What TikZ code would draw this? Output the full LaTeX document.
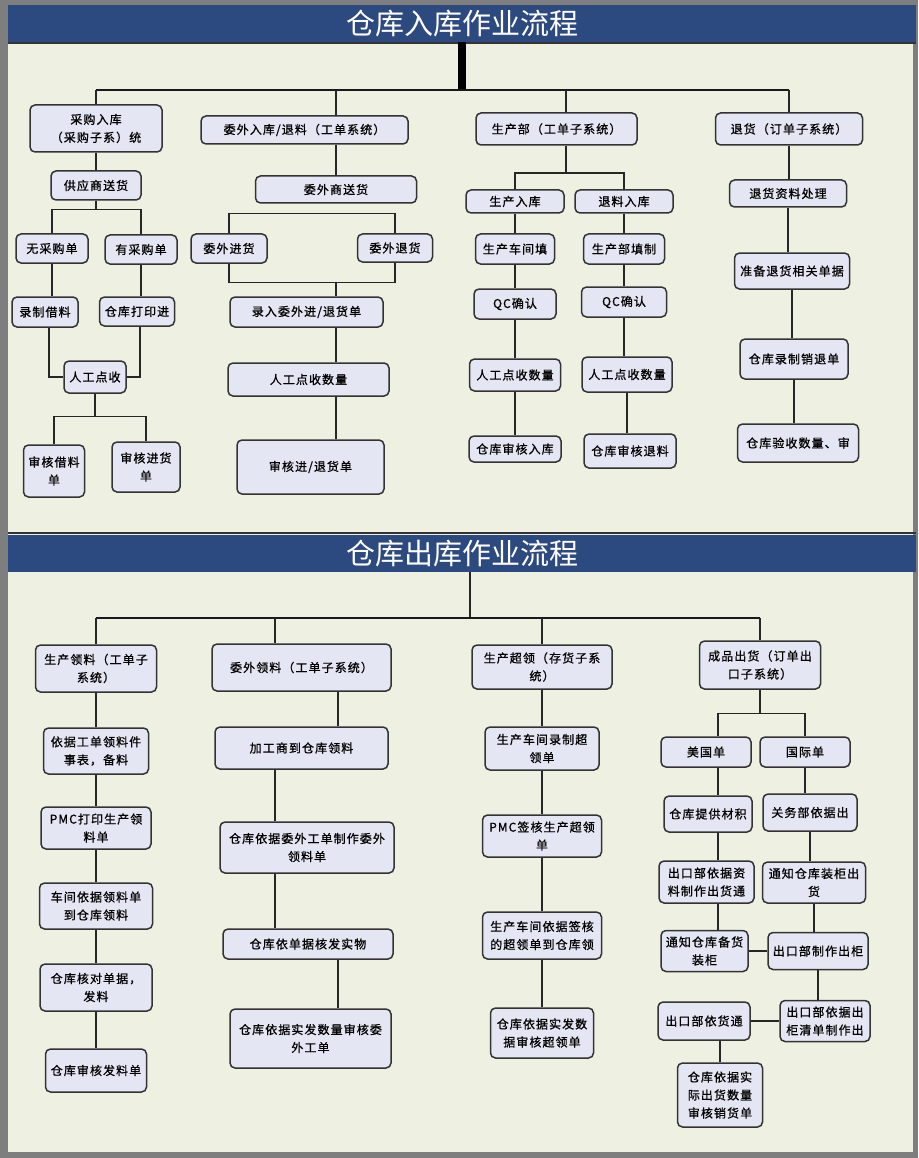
\documentclass[tikz,border=0pt]{standalone}
\usepackage{fontspec}
\setmainfont{Noto Sans CJK SC}
\newfontfamily\boxfont[LetterSpace=9, FakeBold=0.8]{Noto Sans CJK SC}

\definecolor{pagegray}{HTML}{7E7E7E}
\definecolor{paper}{HTML}{EEF1E2}
\definecolor{bannerblue}{HTML}{2C4A80}
\definecolor{boxfill}{HTML}{E4E7F3}
\definecolor{boxline}{HTML}{333333}

\begin{document}
\begin{tikzpicture}[x=1pt, y=-1pt,
  box/.style={rectangle, rounded corners=5pt, draw=boxline, line width=1.5pt, fill=boxfill, inner sep=1pt, align=center, font=\boxfont\fontsize{12}{18}\selectfont},
  sz/.style 2 args={minimum width=#1, minimum height=#2},
  banner/.style={rectangle, fill=bannerblue, text=white, inner sep=0pt, minimum width=908, minimum height=37, font=\fontsize{29}{30}\selectfont},
  wire/.style={draw=black!85, line width=1.3pt},
  bar/.style={draw=black!90, line width=2.5pt},
]
% page
\fill[pagegray] (0,0) rectangle (918,1158);
\fill[paper] (8,5) rectangle (913,1152);
\draw[line width=1.5pt, black!80] (8,43) -- (916,43);
\draw[line width=2pt, black!80] (8,533) -- (916,533);

\node[banner] (banA) at (462,23.5) {仓库入库作业流程};
\node[banner] (banB) at (462,553.5) {仓库出库作业流程};

% ---- inbound ----
\node[box, sz={132}{47}] (cgrk) at (96,128.5) {采购入库\\（采购子系）统};
\node[box, sz={207}{28}] (wwrk) at (304.5,130) {委外入库/退料（工单系统）};
\node[box, sz={161}{32}] (scb) at (556.5,129) {生产部（工单子系统）};
\node[box, sz={147}{32}] (thd) at (789,129) {退货（订单子系统）};
\node[box, sz={90}{29}] (gys) at (96,185.5) {供应商送货};
\node[box, sz={161}{27}] (wws) at (336,189.5) {委外商送货};
\node[box, sz={72}{29}] (wcgd) at (52,248.5) {无采购单};
\node[box, sz={72}{29}] (ycgd) at (141,249.5) {有采购单};
\node[box, sz={76}{29}] (wwjh) at (229,248.5) {委外进货};
\node[box, sz={75}{28}] (wwth) at (395,248) {委外退货};
\node[box, sz={66}{30}] (lzjl) at (45,312) {录制借料};
\node[box, sz={75}{29}] (ckdy) at (137,311.5) {仓库打印进};
\node[box, sz={62}{32}] (rgds) at (95,377) {人工点收};
\node[box, sz={61}{52}] (shjl) at (54,471) {审核借料\\单};
\node[box, sz={68}{50}] (shjh) at (146,467) {审核进货\\单};
\node[box, sz={153}{30}] (lrww) at (306.5,312) {录入委外进/退货单};
\node[box, sz={161}{33}] (rgsl) at (308.5,379.5) {人工点收数量};
\node[box, sz={147}{54}] (shjt) at (310.5,467) {审核进/退货单};
\node[box, sz={98}{23}] (scrk) at (515,201.5) {生产入库};
\node[box, sz={98}{23}] (tlrk) at (624,201.5) {退料入库};
\node[box, sz={79}{30}] (scct) at (515,249) {生产车间填};
\node[box, sz={81}{30}] (scbt) at (624,249) {生产部填制};
\node[box, sz={82}{30}] (qca) at (515,304) {QC确认};
\node[box, sz={85}{30}] (qcb) at (624,302) {QC确认};
\node[box, sz={91}{32}] (rsla) at (515,375) {人工点收数量};
\node[box, sz={90}{35}] (rslb) at (627,374.5) {人工点收数量};
\node[box, sz={92}{26}] (ckrk) at (515,449) {仓库审核入库};
\node[box, sz={92}{34}] (cktl) at (630,451) {仓库审核退料};
\node[box, sz={117}{27}] (thzl) at (788,193.5) {退货资料处理};
\node[box, sz={115}{36}] (zbth) at (792,271) {准备退货相关单据};
\node[box, sz={108}{40}] (cklx) at (794,359) {仓库录制销退单};
\node[box, sz={121}{38}] (ckys) at (798,443) {仓库验收数量、审};

% ---- outbound ----
\node[box, sz={121}{47}] (scll) at (96,668.5) {生产领料（工单子\\系统）};
\node[box, sz={179}{47}] (wwll) at (301.5,667.5) {委外领料（工单子系统）};
\node[box, sz={140}{44}] (sccl) at (542,667) {生产超领（存货子系\\统）};
\node[box, sz={121}{48}] (cpch) at (760,665) {成品出货（订单出\\口子系统）};
\node[box, sz={105}{46}] (yjgd) at (96,751) {依据工单领料件\\事表，备料};
\node[box, sz={173}{42}] (jgsl) at (301.5,748) {加工商到仓库领料};
\node[box, sz={110}{42}] (pmcl) at (96,828) {PMC打印生产领\\料单};
\node[box, sz={174}{51}] (ckww) at (307,847.5) {仓库依据委外工单制作委外\\领料单};
\node[box, sz={113}{46}] (cjll) at (96,906) {车间依据领料单\\到仓库领料};
\node[box, sz={112}{47}] (ckhd) at (96,987.5) {仓库核对单据，\\发料};
\node[box, sz={101}{43}] (ckfl) at (96,1070.5) {仓库审核发料单};
\node[box, sz={170}{30}] (ckhf) at (308,944) {仓库依单据核发实物};
\node[box, sz={161}{59}] (cksh) at (310.5,1038.5) {仓库依据实发数量审核委\\外工单};
\node[box, sz={114}{43}] (sclz) at (542,748.5) {生产车间录制超\\领单};
\node[box, sz={119}{42}] (pmcq) at (542,836) {PMC签核生产超领\\单};
\node[box, sz={119}{47}] (cjqh) at (542,935.5) {生产车间依据签核\\的超领单到仓库领};
\node[box, sz={103}{50}] (ckcl) at (542,1033) {仓库依据实发数\\据审核超领单};
\node[box, sz={90}{30}] (mgd) at (706,752) {美国单};
\node[box, sz={90}{30}] (gjd) at (805,752) {国际单};
\node[box, sz={88}{36}] (cktg) at (708,814) {仓库提供材积};
\node[box, sz={94}{37}] (gwbj) at (810,812.5) {关务部依据出};
\node[box, sz={95}{42}] (ckzl) at (706.5,882) {出口部依据资\\料制作出货通};
\node[box, sz={103}{41}] (tzzg) at (814,882.5) {通知仓库装柜出\\货};
\node[box, sz={87}{41}] (tzbh) at (704.5,951) {通知仓库备货\\装柜};
\node[box, sz={100}{37}] (ckzg) at (818,951) {出口部制作出柜};
\node[box, sz={92}{38}] (ckyh) at (704,1021) {出口部依货通};
\node[box, sz={90}{41}] (ckqd) at (825,1021) {出口部依据出\\柜清单制作出};
\node[box, sz={85}{64}] (ckxd) at (720,1095) {仓库依据实\\际出货数量\\审核销货单};

% helper points
\coordinate (hubA) at (462,90);
\coordinate (hubB) at (470,618);
\coordinate (scbx) at (566,173);
\coordinate (xa) at (275,0);
\coordinate (xb) at (338,0);
\coordinate (xl) at (718,0);
\coordinate (gysb) at ([yshift=-9]gys.south);
\coordinate (wwsb) at ([yshift=-10]wws.south);
\coordinate (lrwwt) at ([yshift=14]lrww.north -| wws);
\coordinate (rgdsb) at ([yshift=-23]rgds.south);
\coordinate (cpchb) at ([yshift=-24]cpch.south);

% inbound wiring
\draw[line width=8pt] (banA.south -| hubA) -- (hubA);
\draw[bar] (cgrk |- hubA) -- (thd |- hubA);
\draw[wire] (cgrk |- hubA) -- (cgrk);
\draw[wire] (wws |- hubA) -- (wwrk.north -| wws);
\draw[wire] (scbx |- hubA) -- (scb.north -| scbx);
\draw[wire] (thd |- hubA) -- (thd);
\draw[wire] (gys) -- (gysb);
\draw[wire] (wcgd) |- (gysb) -| (ycgd);
\draw[wire] (wws |- wwrk.south) -- (wws);
\draw[wire] (wwjh) |- (wwsb) -| (wwth);
\draw[wire] (wwjh) |- (lrwwt) -| (wwth);
\draw[wire] (lrwwt) -- (lrwwt |- lrww.north);
\draw[wire] (lrww.south -| lrwwt) -- (rgsl.north -| lrwwt);
\draw[wire] (rgsl.south -| lrwwt) -- (shjt.north -| lrwwt);
\draw[wire] ([xshift=4]lzjl.south) |- (rgds);
\draw[wire] ([xshift=3]ckdy.south) |- (rgds);
\draw[wire] (rgds) -- (rgdsb);
\draw[wire] (shjl) |- (rgdsb) -| (shjh);
\draw[wire] (scb.south -| scbx) -- (scbx);
\draw[wire] (scrk) |- (scbx) -| (tlrk);

% outbound wiring
\draw[wire] (banB.south -| hubB) -- (hubB);
\draw[bar] (scll |- hubB) -- (cpch |- hubB);
\draw[wire] (scll |- hubB) -- (scll);
\draw[wire] (xa |- hubB) -- (wwll.north -| xa);
\draw[wire] (sccl |- hubB) -- (sccl);
\draw[wire] (cpch |- hubB) -- (cpch);
\draw[wire] (wwll.south -| xb) -- (jgsl.north -| xb);
\draw[wire] (jgsl.south -| xa) -- (ckww.north -| xa);
\draw[wire] (ckww.south -| xa) -- (ckhf.north -| xa);
\draw[wire] (ckhf.south -| xb) -- (cksh.north -| xb);
\draw[wire] (cpch) -- (cpchb);
\draw[wire] (mgd.north -| xl) |- (cpchb) -| (gjd);
\draw[wire] (mgd.south -| xl) -- (cktg.north -| xl);
\draw[wire] (cktg.south -| xl) -- (ckzl.north -| xl);
\draw[wire] (ckzl.south -| xl) -- (tzbh.north -| xl);
\draw[wire] (tzbh) -- (ckzg);
\draw[wire] (ckyh) -- (ckqd);
\draw[wire] (ckxd |- ckyh.south) -- (ckxd);

% straight drops
\foreach \a/\b in {cgrk/gys, wcgd/lzjl, ycgd/ckdy, scrk/scct, scct/qca, qca/rsla, rsla/ckrk,
    tlrk/scbt, scbt/qcb, qcb/rslb, rslb/cktl, thd/thzl, thzl/zbth, zbth/cklx, cklx/ckys,
    scll/yjgd, yjgd/pmcl, pmcl/cjll, cjll/ckhd, ckhd/ckfl,
    sccl/sclz, sclz/pmcq, pmcq/cjqh, cjqh/ckcl,
    gjd/gwbj, gwbj/tzzg, tzzg/ckzg, ckzg/ckqd}
  \draw[wire] (\a.south) -- (\a.south |- \b.north);
\end{tikzpicture}
\end{document}
